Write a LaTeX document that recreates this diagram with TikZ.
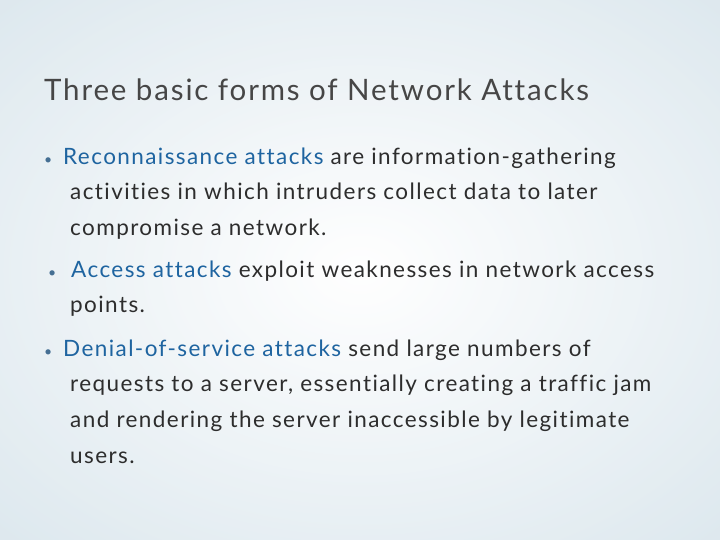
\documentclass[tikz,border=0pt]{standalone}
\usepackage{fontspec}
\setmainfont{Lato}[LetterSpace=6.3,Ligatures=NoCommon]
\definecolor{bgedge}{RGB}{200,218,228}
\definecolor{titlec}{RGB}{70,70,70}
\definecolor{bodyc}{RGB}{45,45,45}
\definecolor{hl}{RGB}{30,100,160}
\newcommand{\bul}{{\fontsize{14}{14}\selectfont\textcolor{hl!60!gray}{•}}}
\begin{document}
\begin{tikzpicture}[x=1pt,y=-1pt,
  title/.style={anchor=base west,inner sep=0,font=\fontsize{29.5}{30}\selectfont,text=titlec},
  line/.style={anchor=base west,inner sep=0,font=\fontsize{22.5}{22.5}\selectfont,text=bodyc}]
\useasboundingbox (0,0) rectangle (720,540);
\shade[inner color=white,outer color=bgedge] (-150,-100) rectangle (870,640);
\fill[white,opacity=0.4] (0,0) rectangle (720,540);
\node[title] (t) at (44,101) {Three basic forms of Network Attacks};
\node[anchor=base west,inner sep=0] (ab) at (44,165) {\bul};
\node[line] (a1) at (63,165) {\textcolor{hl}{Reconnaissance attacks} are information-gathering};
\node[line] (a2) at (70,200) {activities in which intruders collect data to later};
\node[line] (a3) at (70,236) {compromise a network.};
\node[anchor=base west,inner sep=0] (bb) at (48,277) {\bul};
\node[line] (b1) at (71,277) {\textcolor{hl}{Access attacks} exploit weaknesses in network access};
\node[line] (b2) at (70,312) {points.};
\node[anchor=base west,inner sep=0] (cb) at (44,356) {\bul};
\node[line] (c1) at (63,356) {\textcolor{hl}{Denial-of-service attacks} send large numbers of};
\node[line] (c2) at (70,391) {requests to a server, essentially creating a traffic jam};
\node[line] (c3) at (70,427) {and rendering the server inaccessible by legitimate};
\node[line] (c4) at (70,463) {users.};
\end{tikzpicture}
\end{document}
